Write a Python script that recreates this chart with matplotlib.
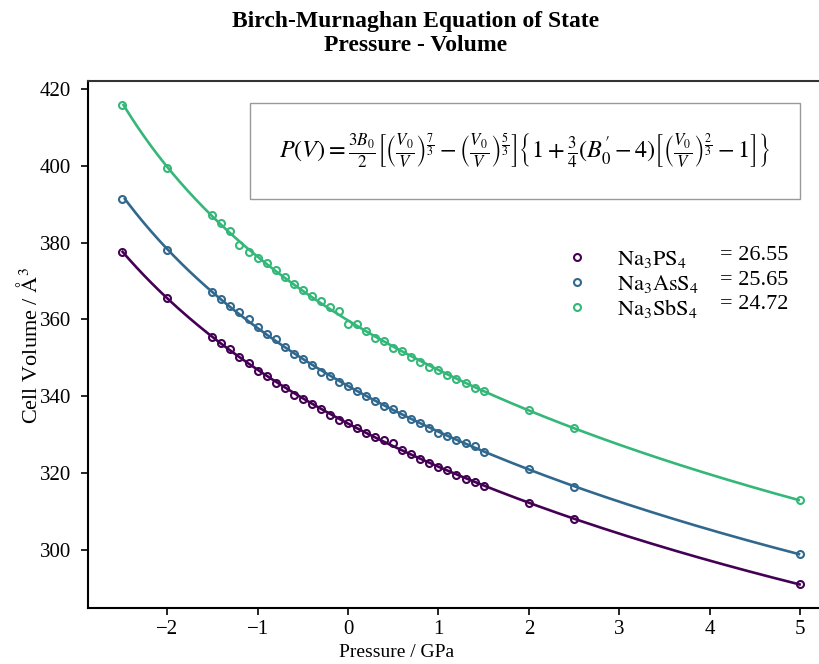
import numpy as np
import matplotlib
matplotlib.use("Agg")
import matplotlib.pyplot as plt
from matplotlib.lines import Line2D

plt.rcParams['font.family'] = ['Liberation Serif', 'DejaVu Serif']
plt.rcParams['mathtext.fontset'] = 'stix'

# ---------------- data ----------------
pressure = [-2.5, -2.0, -1.5, -1.4, -1.3, -1.2, -1.1, -1.0, -0.9, -0.8, -0.7, -0.6,
            -0.5, -0.4, -0.3, -0.2, -0.1, 0.0, 0.1, 0.2, 0.3, 0.4, 0.5, 0.6, 0.7,
            0.8, 0.9, 1.0, 1.1, 1.2, 1.3, 1.4, 1.5, 2.0, 2.5, 5.0]

vol_PS4 = [377.6, 365.6, 355.5, 353.8, 352.4, 350.3, 348.7, 346.6, 345.3, 343.5, 342.2, 340.3,
           339.2, 337.9, 336.6, 335.1, 333.8, 332.9, 331.8, 330.5, 329.3, 328.6, 327.7, 326.0, 324.8,
           323.7, 322.6, 321.6, 320.7, 319.4, 318.5, 317.5, 316.6, 312.1, 308.0, 290.9]

vol_AsS4 = [391.4, 378.1, 367.2, 365.2, 363.6, 361.8, 360.0, 358.1, 356.2, 354.8, 352.9, 350.9,
            349.7, 348.1, 346.4, 345.2, 343.8, 342.6, 341.4, 339.9, 338.6, 337.4, 336.6, 335.3, 334.0,
            332.9, 331.8, 330.5, 329.6, 328.6, 327.7, 327.0, 325.4, 321.0, 316.3, 298.8]

vol_SbS4 = [415.9, 399.4, 387.2, 385.0, 383.1, 379.3, 377.6, 375.9, 374.6, 372.9, 371.0, 369.2,
            367.7, 366.1, 364.8, 363.3, 362.2, 358.8, 358.9, 356.9, 355.2, 354.3, 352.5, 351.8, 350.3,
            349.0, 347.7, 346.8, 345.5, 344.4, 343.3, 342.0, 341.4, 336.5, 331.6, 312.9]

compounds = [r'$\mathrm{Na_3PS_4}$', r'$\mathrm{Na_3AsS_4}$', r'$\mathrm{Na_3SbS_4}$']
bulk_moduli = ['26.55', '25.65', '24.72']
colors = [plt.cm.viridis(0.0), plt.cm.viridis(1 / 3), plt.cm.viridis(2 / 3)]

equation = (r'$P(V) = \frac{3B_0}{2}\left[\left(\frac{V_0}{V}\right)^{\frac{7}{3}}'
            r' - \left(\frac{V_0}{V}\right)^{\frac{5}{3}}\right]'
            r'\left\{1 + \frac{3}{4}(B_0^{\prime} - 4)\left[\left(\frac{V_0}{V}\right)^{\frac{2}{3}}'
            r' - 1\right]\right\}$')

# ---------------- figure ----------------
fig = plt.figure(figsize=(8.2, 6.64), dpi=100)
ax = fig.add_axes([88 / 820, 1 - 608.4 / 664, 746 / 820, (608.4 - 81) / 664])


def bm_fit(P, V):
    """Third order Birch-Murnaghan fit: P = a*y^5 + b*y^7 + c*y^9 with y=(V/Vref)^(-1/3)."""
    P = np.asarray(P, float)
    V = np.asarray(V, float)
    vref = V.mean()
    y = (V / vref) ** (-1 / 3)
    A = np.vstack([y ** 5, y ** 7, y ** 9]).T
    coef, *_ = np.linalg.lstsq(A, P, rcond=None)
    vs = np.linspace(V.min(), V.max(), 400)
    ys = (vs / vref) ** (-1 / 3)
    ps = coef[0] * ys ** 5 + coef[1] * ys ** 7 + coef[2] * ys ** 9
    return ps, vs


for vols, c in zip([vol_PS4, vol_AsS4, vol_SbS4], colors):
    ps, vs = bm_fit(pressure, vols)
    ax.plot(ps, vs, color=c, lw=1.9, zorder=2)
    ax.plot(pressure, vols, 'o', mfc='none', mec=c, mew=1.5, ms=5, zorder=3)

ax.set_xticks([-2, -1, 0, 1, 2, 3, 4, 5])
ax.set_yticks([300, 320, 340, 360, 380, 400, 420])
ax.tick_params(labelsize=15, length=5, width=1.2, direction='out', top=False, right=False)
ax.tick_params(axis='y', pad=7)
for s in ['left', 'bottom']:
    ax.spines[s].set_linewidth(1.5)
    ax.spines[s].set_color('black')
ax.spines['top'].set_linewidth(1.5)
ax.spines['top'].set_color('#333333')
ax.spines['right'].set_visible(False)

ax.set_xlabel('Pressure / GPa', fontsize=14)
ax.xaxis.set_label_coords((396.5 - 88) / 746, -0.068)
ax.set_ylabel(r'Cell Volume / $\mathrm{\AA}^3$', fontsize=16)
ax.yaxis.set_label_coords(-0.062, (608.4 - 345.5) / 527.4)

fig.suptitle('Birch-Murnaghan Equation of State\nPressure - Volume',
             fontsize=17, fontweight='bold', x=416 / 820, y=0.983, va='top',
             linespacing=1.2)

# equation box
ax.text(1.96, 403.9, equation, fontsize=17.5, ha='center', va='center',
        bbox=dict(boxstyle='square,pad=1.2', fc='white', ec='#999999', lw=1.0),
        zorder=5)

# legend
handles = [Line2D([], [], ls='none', marker='o', mfc='none', mec=c, mew=1.5, ms=5)
           for c in colors]
ax.legend(handles, compounds, loc='center left', bbox_to_anchor=(0.640, 0.614),
          frameon=False, fontsize=16, handlelength=1.0, handletextpad=1.3,
          labelspacing=0.12, borderpad=0, borderaxespad=0)
for i, b in enumerate(bulk_moduli):
    ax.text(0.847, [0.669, 0.622, 0.576][i], '= ' + b, transform=ax.transAxes,
            fontsize=16, ha='left', va='center')

fig.savefig('out.png', dpi=100)
